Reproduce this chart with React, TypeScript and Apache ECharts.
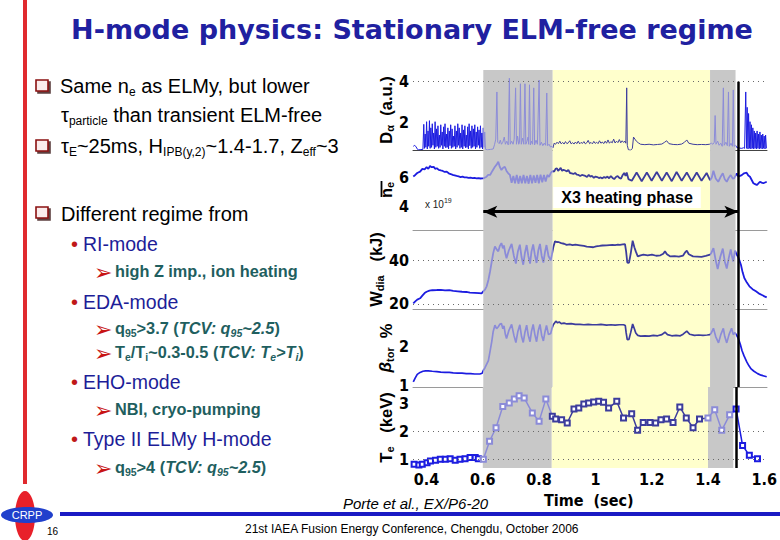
import React, { useEffect, useRef } from 'react';
import * as echarts from 'echarts';

// ---------- data ----------
const TIME_TICKS = [0.4, 0.6, 0.8, 1.0, 1.2, 1.4, 1.6];
const DALPHA_TICKS = [2, 4];
const NE_TICKS = [4, 6];
const WDIA_TICKS = [20, 40];
const BETA_TICKS = [1, 2];
const TE_TICKS = [1, 2, 3];

const DALPHA_GRID = [4];
const WDIA_GRID = [20, 40];
const TE_GRID = [1, 2];

// phases (s)
const GRAY_BANDS = [[0.6, 0.845], [1.4, 1.49]];
const YELLOW_BANDS = [[0.845, 1.4]];
const X3_START = 0.6;
const X3_END = 1.5;
const ARROW_LEVEL = 3.66; // in ne units, where the arrow is drawn

const D_ALPHA = [
  [0.353, 0.85], [0.358, 0.9], [0.363, 0.82], [0.368, 0.7], [0.372, 0.68], [0.38, 0.69], [0.387, 0.7],
  [0.39, 1.92], [0.3925, 0.75], [0.395, 1.45], [0.3975, 0.8], [0.4, 2.05], [0.4025, 0.72], [0.405, 1.6], [0.4075, 0.85],
  [0.41, 2.1], [0.4125, 0.75], [0.415, 1.75], [0.4175, 0.8], [0.42, 1.95], [0.4225, 0.9], [0.425, 1.5], [0.4275, 0.72],
  [0.43, 2.05], [0.4325, 0.8], [0.435, 1.7], [0.4375, 0.85], [0.44, 1.85], [0.4425, 0.75], [0.445, 1.4], [0.4475, 0.8],
  [0.45, 1.9], [0.4525, 0.9], [0.455, 1.55], [0.4575, 0.72], [0.46, 1.8], [0.4625, 0.85], [0.465, 1.95], [0.4675, 0.78],
  [0.47, 1.45], [0.4725, 0.8], [0.475, 1.75], [0.4775, 0.72], [0.48, 1.6], [0.4825, 0.88], [0.485, 1.9], [0.4875, 0.75],
  [0.49, 1.7], [0.4925, 0.8], [0.495, 1.35], [0.4975, 0.85], [0.5, 1.85], [0.5025, 0.72], [0.505, 1.6], [0.5075, 0.8],
  [0.51, 1.95], [0.5125, 0.9], [0.515, 1.75], [0.5175, 0.75], [0.52, 1.5], [0.5225, 0.8], [0.525, 1.9], [0.5275, 0.72],
  [0.53, 1.65], [0.5325, 0.85], [0.535, 1.85], [0.5375, 0.78], [0.54, 1.4], [0.5425, 0.8], [0.545, 1.8], [0.5475, 0.72],
  [0.55, 1.95], [0.5525, 0.88], [0.555, 1.6], [0.5575, 0.75], [0.56, 1.85], [0.5625, 0.8], [0.565, 1.7], [0.5675, 0.85],
  [0.57, 1.9], [0.5725, 0.72], [0.575, 1.55], [0.5775, 0.8], [0.58, 1.8], [0.5825, 0.9], [0.585, 1.65], [0.5875, 0.75],
  [0.59, 1.85], [0.5925, 0.8], [0.595, 1.5], [0.5975, 0.72], [0.6, 1.75], [0.6025, 0.8], [0.605, 1.55], [0.608, 0.7],
  [0.615, 0.68], [0.625, 0.7], [0.635, 0.72], [0.64, 0.95], [0.644, 1.2], [0.648, 3.5], [0.651, 1.05], [0.656, 0.98],
  [0.66, 1.15], [0.664, 0.95], [0.669, 1.05], [0.674, 1.3], [0.678, 0.95], [0.683, 1.1], [0.688, 0.92], [0.692, 4.17],
  [0.695, 0.95], [0.7, 1.1], [0.705, 0.95], [0.709, 1.2], [0.714, 3.7], [0.717, 0.95], [0.721, 1.35], [0.725, 0.95],
  [0.728, 1.05], [0.731, 3.9], [0.734, 0.95], [0.739, 1.25], [0.743, 0.95], [0.747, 3.9], [0.75, 0.95], [0.754, 1.1],
  [0.758, 1.3], [0.76, 0.95], [0.763, 3.85], [0.766, 0.92], [0.77, 1.1], [0.774, 0.95], [0.778, 3.7], [0.781, 0.92],
  [0.786, 1.15], [0.791, 0.95], [0.797, 4.08], [0.8, 0.9], [0.805, 1.05], [0.81, 0.88], [0.815, 1.0], [0.82, 0.9],
  [0.824, 3.45], [0.827, 0.88], [0.832, 0.95], [0.837, 0.82], [0.842, 0.85],
  [0.846, 0.78], [0.85, 1.0], [0.855, 0.95], [0.86, 1.05], [0.865, 0.98], [0.87, 1.1], [0.875, 0.97], [0.88, 1.04],
  [0.885, 0.96], [0.89, 1.08], [0.895, 0.98], [0.9, 1.02], [0.905, 1.12], [0.91, 0.97], [0.915, 1.03], [0.92, 0.96],
  [0.925, 1.06], [0.93, 0.98], [0.935, 1.1], [0.94, 0.97], [0.945, 1.04], [0.95, 0.99], [0.955, 1.08], [0.96, 0.97],
  [0.965, 1.02], [0.97, 1.14], [0.975, 0.98], [0.98, 1.04], [0.985, 0.97], [0.99, 1.09], [0.995, 0.99], [1.0, 1.05],
  [1.005, 0.98], [1.01, 1.12], [1.015, 1.0], [1.02, 1.06], [1.025, 0.98], [1.03, 1.1], [1.035, 1.0], [1.04, 1.16],
  [1.045, 1.0], [1.05, 1.08], [1.055, 1.02], [1.06, 1.2], [1.065, 1.01], [1.07, 1.1], [1.075, 1.03], [1.08, 1.18],
  [1.085, 1.02], [1.09, 1.12], [1.095, 1.04], [1.1, 1.1], [1.103, 1.0], [1.106, 3.7], [1.108, 0.9], [1.112, 0.68],
  [1.12, 0.66], [1.126, 0.75], [1.13, 1.3], [1.135, 1.2], [1.14, 1.1], [1.147, 1.02], [1.155, 0.95], [1.17, 0.93],
  [1.185, 0.95], [1.2, 0.92], [1.215, 0.94], [1.23, 0.96], [1.24, 1.05], [1.247, 1.12], [1.255, 0.98], [1.27, 0.94],
  [1.285, 0.93], [1.3, 0.96], [1.31, 1.05], [1.318, 1.16], [1.325, 1.0], [1.34, 0.95], [1.355, 0.93], [1.37, 0.94],
  [1.385, 0.93], [1.398, 0.95],
  [1.405, 1.0], [1.41, 0.95], [1.415, 1.05], [1.418, 2.35], [1.421, 0.95], [1.427, 1.1], [1.432, 0.9], [1.438, 1.0],
  [1.443, 0.85], [1.447, 3.7], [1.45, 0.9], [1.456, 1.05], [1.461, 0.88], [1.465, 3.5], [1.468, 0.85], [1.474, 1.0],
  [1.479, 0.85], [1.482, 3.6], [1.485, 0.85], [1.49, 0.9],
  [1.495, 0.78], [1.5, 0.8], [1.505, 0.76], [1.512, 0.75], [1.518, 0.78], [1.522, 0.75], [1.526, 3.5], [1.529, 0.75],
  [1.531, 2.75], [1.534, 0.72], [1.536, 2.45], [1.539, 0.75], [1.541, 2.05], [1.544, 0.72], [1.546, 1.9], [1.549, 0.75],
  [1.551, 1.75], [1.554, 0.72], [1.556, 1.6], [1.559, 0.75], [1.561, 1.5], [1.564, 0.72], [1.566, 1.6], [1.569, 0.75],
  [1.571, 1.45], [1.574, 0.72], [1.576, 1.55], [1.579, 0.75], [1.581, 1.4], [1.584, 0.72], [1.586, 1.45], [1.589, 0.75],
  [1.591, 1.35], [1.594, 0.72], [1.596, 1.4], [1.599, 0.75],
];

const NE = [
  [0.353, 6.03], [0.36, 6.14], [0.367, 6.27], [0.377, 6.36], [0.385, 6.55], [0.393, 6.52], [0.4, 6.66], [0.406, 6.55],
  [0.412, 6.74], [0.418, 6.66], [0.425, 6.69], [0.43, 6.55], [0.436, 6.59], [0.443, 6.48], [0.45, 6.44], [0.457, 6.41],
  [0.464, 6.34], [0.471, 6.36], [0.478, 6.25], [0.485, 6.2], [0.492, 6.14], [0.499, 6.11], [0.506, 6.07], [0.513, 6.04],
  [0.52, 6.0], [0.527, 6.03], [0.534, 5.97], [0.541, 5.98], [0.548, 5.94], [0.555, 5.96], [0.562, 5.93], [0.569, 5.94],
  [0.576, 5.91], [0.583, 5.93], [0.59, 5.9], [0.596, 5.91],
  [0.6, 5.91], [0.61, 6.0], [0.617, 6.14], [0.624, 6.14], [0.632, 6.41], [0.641, 6.69], [0.647, 6.83], [0.653, 7.03],
  [0.658, 6.69], [0.664, 6.47], [0.67, 6.62], [0.676, 6.69], [0.682, 6.41], [0.688, 6.25], [0.694, 6.14], [0.7, 5.61],
  [0.706, 6.07], [0.712, 5.58], [0.718, 6.14], [0.724, 5.55], [0.73, 6.07], [0.736, 5.58], [0.742, 6.14], [0.748, 5.58],
  [0.754, 6.07], [0.76, 5.55], [0.766, 6.14], [0.772, 5.58], [0.778, 6.11], [0.784, 5.61], [0.79, 6.14], [0.796, 5.58],
  [0.802, 6.16], [0.808, 5.65], [0.814, 6.14], [0.82, 5.69], [0.826, 6.14], [0.832, 6.0], [0.838, 6.27], [0.842, 6.36],
  [0.846, 6.41], [0.85, 6.36], [0.855, 6.55], [0.86, 6.59], [0.864, 6.41], [0.868, 6.49], [0.873, 6.62], [0.878, 6.41],
  [0.883, 6.49], [0.889, 6.44], [0.895, 6.38], [0.9, 6.48], [0.906, 6.27], [0.912, 6.25], [0.918, 6.2], [0.924, 6.27],
  [0.93, 6.16], [0.936, 6.14], [0.942, 6.07], [0.948, 6.14], [0.954, 6.11], [0.96, 6.07], [0.966, 6.0], [0.972, 6.14],
  [0.978, 6.03], [0.984, 6.07], [0.99, 5.94], [0.996, 6.03], [1.002, 6.0], [1.008, 5.93], [1.014, 5.97], [1.02, 5.91],
  [1.026, 6.0], [1.032, 5.94], [1.038, 6.03], [1.044, 5.91], [1.05, 6.07], [1.056, 5.94], [1.062, 5.86], [1.068, 6.0],
  [1.074, 6.07], [1.08, 5.94], [1.086, 5.89], [1.092, 6.14], [1.097, 6.27], [1.102, 6.07], [1.106, 6.3], [1.112, 5.86],
  [1.124, 5.75], [1.141, 6.3], [1.159, 5.72], [1.177, 6.3], [1.194, 5.75], [1.212, 6.34], [1.23, 5.75], [1.247, 6.3],
  [1.265, 5.72], [1.282, 6.34], [1.3, 5.75], [1.318, 6.3], [1.335, 5.72], [1.353, 6.3], [1.37, 5.75], [1.388, 6.27],
  [1.4, 5.79],
  [1.406, 5.95], [1.412, 6.42], [1.42, 5.9], [1.429, 5.68], [1.437, 6.0], [1.445, 6.25], [1.452, 5.85], [1.459, 5.68],
  [1.466, 5.95], [1.473, 6.13], [1.48, 5.9], [1.485, 5.91], [1.494, 6.25],
  [1.5, 6.02], [1.506, 6.08], [1.512, 6.13], [1.52, 6.25], [1.529, 6.29], [1.535, 6.1], [1.541, 6.02], [1.547, 5.8],
  [1.553, 5.58], [1.559, 5.52], [1.565, 5.46], [1.57, 5.55], [1.576, 5.68], [1.582, 5.62], [1.588, 5.58], [1.594, 5.63],
  [1.6, 5.68],
];

const WDIA = [
  [0.353, 20.3], [0.36, 21.2], [0.367, 22.0], [0.377, 22.6], [0.385, 23.8], [0.393, 25.0], [0.4, 25.6], [0.41, 26.1],
  [0.42, 26.3], [0.436, 26.4], [0.45, 26.5], [0.465, 26.2], [0.48, 26.3], [0.494, 26.0], [0.51, 25.8], [0.525, 25.6],
  [0.54, 25.5], [0.553, 25.2], [0.57, 25.1], [0.585, 25.0], [0.594, 24.9],
  [0.6, 25.8], [0.606, 26.6], [0.612, 28.1], [0.618, 31.0], [0.624, 35.0], [0.63, 39.5], [0.635, 43.3], [0.641, 46.4],
  [0.647, 45.0], [0.653, 44.1], [0.658, 46.5], [0.664, 47.9], [0.669, 45.5], [0.673, 46.8], [0.678, 43.0], [0.682, 41.0],
  [0.69, 44.5], [0.7, 47.5], [0.708, 42.0], [0.715, 38.5], [0.722, 44.0], [0.729, 47.2], [0.735, 41.5], [0.741, 38.0],
  [0.747, 43.5], [0.753, 47.0], [0.759, 42.0], [0.765, 38.5], [0.77, 44.0], [0.776, 47.3], [0.782, 42.5], [0.788, 38.8],
  [0.794, 44.5], [0.8, 47.5], [0.806, 42.0], [0.812, 39.0], [0.818, 44.0], [0.823, 47.0], [0.83, 42.0], [0.838, 40.0],
  [0.842, 42.5],
  [0.847, 46.0], [0.853, 48.7], [0.859, 48.4], [0.867, 48.3], [0.875, 47.9], [0.885, 47.6], [0.894, 47.1], [0.905, 47.3],
  [0.915, 47.0], [0.925, 47.2], [0.941, 46.9], [0.955, 46.6], [0.965, 46.3], [0.975, 46.2], [0.988, 46.0], [0.998, 46.4],
  [1.01, 46.6], [1.02, 46.8], [1.035, 46.9], [1.045, 47.0], [1.055, 47.1], [1.065, 47.0], [1.075, 47.2], [1.082, 47.1],
  [1.092, 47.3], [1.1, 47.4], [1.104, 44.0], [1.108, 39.0], [1.114, 38.8], [1.12, 43.0], [1.127, 49.0], [1.133, 46.0],
  [1.138, 44.1], [1.145, 41.8], [1.155, 42.3], [1.165, 42.6], [1.18, 42.3], [1.195, 42.6], [1.21, 42.1], [1.225, 42.3],
  [1.235, 43.0], [1.241, 44.1], [1.248, 42.8], [1.26, 41.8], [1.275, 41.9], [1.29, 41.7], [1.305, 42.2], [1.313, 43.8],
  [1.318, 44.4], [1.325, 42.8], [1.34, 41.8], [1.355, 41.7], [1.37, 41.6], [1.385, 42.0], [1.4, 42.6],
  [1.405, 43.5], [1.412, 45.6], [1.42, 40.0], [1.427, 36.0], [1.436, 41.5], [1.445, 45.4], [1.452, 39.5], [1.459, 36.2],
  [1.466, 41.0], [1.473, 45.0], [1.478, 41.5], [1.482, 39.5], [1.488, 44.5], [1.494, 42.6],
  [1.5, 41.3], [1.505, 39.5], [1.509, 38.0], [1.515, 34.5], [1.521, 31.9], [1.53, 29.8], [1.539, 28.1], [1.55, 26.8],
  [1.562, 25.8], [1.575, 24.6], [1.585, 24.0], [1.592, 23.5], [1.6, 23.0],
];

const BETA = [
  [0.353, 1.1], [0.36, 1.2], [0.367, 1.29], [0.377, 1.34], [0.387, 1.37], [0.396, 1.38], [0.406, 1.38], [0.42, 1.37],
  [0.436, 1.36], [0.45, 1.35], [0.465, 1.34], [0.48, 1.34], [0.494, 1.33], [0.51, 1.32], [0.525, 1.32], [0.54, 1.31],
  [0.555, 1.31], [0.57, 1.3], [0.588, 1.3], [0.596, 1.32],
  [0.6, 1.39], [0.606, 1.46], [0.612, 1.55], [0.618, 1.64], [0.624, 1.88], [0.63, 2.13], [0.635, 2.38], [0.641, 2.54],
  [0.647, 2.45], [0.653, 2.5], [0.658, 2.56], [0.664, 2.58], [0.669, 2.45], [0.673, 2.52], [0.678, 2.3], [0.682, 2.2],
  [0.69, 2.4], [0.7, 2.56], [0.708, 2.28], [0.715, 2.1], [0.722, 2.38], [0.729, 2.55], [0.735, 2.25], [0.741, 2.1],
  [0.747, 2.36], [0.753, 2.54], [0.759, 2.27], [0.765, 2.12], [0.77, 2.38], [0.776, 2.56], [0.782, 2.3], [0.788, 2.12],
  [0.794, 2.4], [0.8, 2.56], [0.806, 2.28], [0.812, 2.14], [0.818, 2.38], [0.823, 2.53], [0.83, 2.3], [0.838, 2.33],
  [0.842, 2.45],
  [0.847, 2.55], [0.856, 2.64], [0.862, 2.6], [0.868, 2.62], [0.875, 2.58], [0.885, 2.59], [0.895, 2.57], [0.91, 2.58],
  [0.925, 2.56], [0.941, 2.56], [0.955, 2.55], [0.97, 2.56], [0.985, 2.55], [1.0, 2.55], [1.015, 2.56], [1.035, 2.54],
  [1.05, 2.55], [1.065, 2.54], [1.08, 2.55], [1.095, 2.55], [1.101, 2.53], [1.104, 2.35], [1.108, 2.17], [1.114, 2.18],
  [1.12, 2.35], [1.127, 2.57], [1.133, 2.45], [1.138, 2.34], [1.145, 2.28], [1.155, 2.26], [1.17, 2.27], [1.185, 2.26],
  [1.2, 2.28], [1.215, 2.27], [1.23, 2.3], [1.241, 2.36], [1.25, 2.3], [1.265, 2.27], [1.28, 2.28], [1.295, 2.27],
  [1.305, 2.31], [1.318, 2.39], [1.328, 2.31], [1.345, 2.28], [1.36, 2.29], [1.375, 2.28], [1.39, 2.29], [1.4, 2.3],
  [1.405, 2.35], [1.412, 2.46], [1.42, 2.25], [1.43, 2.09], [1.438, 2.3], [1.447, 2.46], [1.452, 2.25], [1.459, 2.09],
  [1.467, 2.3], [1.476, 2.46], [1.482, 2.3], [1.488, 2.35], [1.494, 2.28],
  [1.5, 2.2], [1.507, 2.05], [1.513, 1.89], [1.52, 1.76], [1.53, 1.6], [1.538, 1.5], [1.545, 1.43], [1.555, 1.37],
  [1.568, 1.31], [1.58, 1.27], [1.59, 1.25], [1.6, 1.23],
];

const TE = [
  [0.356, 0.82], [0.373, 0.8], [0.385, 0.82], [0.402, 0.88], [0.414, 0.94], [0.432, 0.97], [0.449, 1.0], [0.467, 1.0],
  [0.484, 1.02], [0.502, 0.97], [0.519, 1.0], [0.537, 1.02], [0.555, 1.06], [0.573, 1.06], [0.584, 1.02], [0.602, 1.0],
  [0.624, 1.64], [0.647, 2.12], [0.671, 2.88], [0.694, 3.0], [0.712, 3.14], [0.729, 3.26], [0.747, 3.18], [0.776, 2.65],
  [0.8, 2.35], [0.824, 3.14],
  [0.847, 2.53], [0.859, 2.43], [0.88, 2.41], [0.9, 2.29], [0.924, 2.79], [0.941, 2.82], [0.959, 2.97], [0.976, 3.0],
  [0.994, 3.04], [1.012, 3.06], [1.029, 3.03], [1.047, 2.82], [1.076, 3.06], [1.1, 2.47], [1.129, 2.62], [1.15, 2.03],
  [1.17, 2.31], [1.194, 2.31], [1.214, 2.29], [1.233, 2.41], [1.253, 2.43], [1.276, 2.31], [1.3, 2.86], [1.323, 2.47],
  [1.347, 2.12], [1.37, 2.43], [1.4, 2.47],
  [1.424, 2.76], [1.449, 2.03], [1.477, 2.58], [1.5, 2.79],
  [1.523, 1.49], [1.547, 1.14], [1.576, 1.02],
];

// ---------- style ----------
const FONT = 'Liberation Sans, Arial, Helvetica, sans-serif';
const NARROW = 'Liberation Sans Narrow, DejaVu Sans Condensed, Arial Narrow, sans-serif';
const BLUE = '#1c1ce0';
const LAV = '#8b8bd8';
const NAVY = '#3c3c9c';
const GRAY = '#c8c8c8';
const YELLOW = '#ffffcc';
const NAVY_TXT = '#1d1d98';
const TEAL = '#1f5f5f';
const RED = '#c01818';

const GRID_TOPS = [70, 150, 230, 309, 387];
const GRID_HEIGHTS = [80, 80, 79, 78, 81];
const X_MIN = 0.352;
const X_MAX = 1.601;

function richDefs(size: number, color: string, weight: string, sub: number) {
  const lh = Math.round(size * 1.2);
  const base = { fontSize: size, fontFamily: FONT, fontWeight: weight, fill: color, color, verticalAlign: 'middle', lineHeight: lh };
  const s = { fontSize: sub, fontFamily: FONT, fontWeight: weight, fill: color, color, verticalAlign: 'bottom', lineHeight: Math.round(sub * 0.85) };
  return {
    n: base,
    s,
    i: { ...base, fontStyle: 'italic' },
    is: { ...s, fontStyle: 'italic' },
  };
}

function txt(x: number, y: number, text: string, rich: any, extra: any = {}) {
  return {
    type: 'text',
    x,
    y,
    z: 20,
    silent: true,
    style: {
      text,
      rich,
      fontFamily: FONT,
      align: 'left',
      textAlign: 'left',
      verticalAlign: 'middle',
      textVerticalAlign: 'middle',
      ...extra,
    },
  };
}

function plain(x: number, y: number, text: string, size: number, color: string, extra: any = {}) {
  return {
    type: 'text',
    x,
    y,
    z: 20,
    silent: true,
    style: {
      text,
      fontSize: size,
      fontFamily: FONT,
      fill: color,
      align: 'left',
      textAlign: 'left',
      verticalAlign: 'middle',
      textVerticalAlign: 'middle',
      ...extra,
    },
  };
}

function bulletBox(y: number) {
  return {
    type: 'rect',
    z: 20,
    silent: true,
    shape: { x: 36, y: y - 6, width: 12, height: 11 },
    style: {
      fill: '#fbecec',
      stroke: '#8a1010',
      lineWidth: 1.6,
      shadowColor: 'rgba(40,0,0,0.75)',
      shadowOffsetX: 2,
      shadowOffsetY: 2,
      shadowBlur: 0,
    },
  };
}

function arrowHead(y: number) {
  return plain(94, y + 1, '➢', 22, '#c81414', { fontFamily: 'DejaVu Sans, sans-serif' });
}

function buildOption() {
  const L1 = richDefs(20, '#000', 'normal', 12);
  const L2 = richDefs(19.5, NAVY_TXT, 'normal', 12);
  const L3 = richDefs(16.3, TEAL, 'bold', 10.5);

  const elements: any[] = [
    { type: 'line', silent: true, shape: { x1: 25, y1: 0, x2: 25, y2: 484 }, style: { stroke: '#e02a2e', lineWidth: 4 } },
    {
      type: 'text', x: 412, y: 29, silent: true,
      style: {
        text: 'H-mode physics: Stationary ELM-free regime',
        fontSize: 27, fontWeight: 'bold', fontFamily: 'DejaVu Sans, Liberation Sans, sans-serif', fill: '#2020a0',
        align: 'center', textAlign: 'center', verticalAlign: 'middle', textVerticalAlign: 'middle',
      },
    },
    bulletBox(86), bulletBox(146), bulletBox(213),
    txt(60, 86, '{n|Same n}{s|e}{n| as ELMy, but lower}', L1),
    txt(61, 114.5, '{n|τ}{s|particle}{n| than transient ELM-free}', L1),
    txt(61, 146, '{n|τ}{s|E}{n|~25ms, H}{s|IPB(y,2)}{n|~1.4-1.7, Z}{s|eff}{n|~3}', L1),
    txt(61, 213.5, '{n|Different regime from}', L1),
    // level 2 items
    plain(71, 243.5, '•', 20, RED),
    txt(83, 243.5, '{n|RI-mode}', L2),
    plain(71, 301.5, '•', 20, RED),
    txt(83, 301.5, '{n|EDA-mode}', L2),
    plain(71, 382, '•', 20, RED),
    txt(83, 382, '{n|EHO-mode}', L2),
    plain(71, 438.5, '•', 20, RED),
    txt(83, 438.5, '{n|Type II ELMy H-mode}', L2),
    // level 3 items
    arrowHead(271),
    txt(115, 271, '{n|high Z imp., ion heating}', L3),
    arrowHead(328),
    txt(115, 328, '{n|q}{s|95}{n|>3.7 (}{i|TCV: q}{is|95}{i|~2.5}{n|)}', L3),
    arrowHead(352),
    txt(115, 352, '{n|T}{s|e}{n|/T}{s|i}{n|~0.3-0.5 (}{i|TCV: T}{is|e}{i|>T}{is|i}{n|)}', L3),
    arrowHead(409),
    txt(115, 409, '{n|NBI, cryo-pumping}', L3),
    arrowHead(467),
    txt(115, 467, '{n|q}{s|95}{n|>4 (}{i|TCV: q}{is|95}{i|~2.5}{n|)}', L3),
    // citation & footer
    plain(343, 503, 'Porte et al., EX/P6-20', 15, '#000', { fontStyle: 'italic' }),
    { type: 'line', silent: true, shape: { x1: 60, y1: 514, x2: 780, y2: 514 }, style: { stroke: '#1a1ac4', lineWidth: 4 } },
    plain(245, 529, '21st IAEA Fusion Energy Conference, Chengdu, October 2006', 12, '#000'),
    plain(47, 531, '16', 10, '#000'),
    // logo
    { type: 'ellipse', silent: true, shape: { cx: 25, cy: 516, rx: 10, ry: 25 }, style: { fill: '#e8202a' } },
    { type: 'ellipse', silent: true, shape: { cx: 27, cy: 515, rx: 26, ry: 8 }, style: { fill: '#2040cc' } },
    {
      type: 'text', x: 27, y: 515, silent: true,
      style: { text: 'CRPP', fontSize: 11, fontFamily: FONT, fill: '#fff', align: 'center', textAlign: 'center', verticalAlign: 'middle', textVerticalAlign: 'middle' },
    },
    // plot annotations
    {
      type: 'text', x: 627, y: 197.5, z: 30, silent: true,
      style: {
        text: 'X3 heating phase', fontSize: 16, fontWeight: 'bold', fontFamily: FONT, fill: '#000',
        backgroundColor: '#ffffff', padding: [2, 8, 2, 8], lineHeight: 17,
        align: 'center', textAlign: 'center', verticalAlign: 'middle', textVerticalAlign: 'middle',
      },
    },
    txt(425, 204, '{n|x 10}{p|19}', {
      n: { fontSize: 10, fontFamily: FONT, fill: '#222', color: '#222', verticalAlign: 'middle', lineHeight: 14 },
      p: { fontSize: 7, fontFamily: FONT, fill: '#222', color: '#222', verticalAlign: 'top', lineHeight: 8 },
    }),
    // overline of n_e
    { type: 'line', silent: true, shape: { x1: 381.5, y1: 181, x2: 381.5, y2: 197 }, style: { stroke: '#000', lineWidth: 1.8 } },
  ];

  const nameRich = {
    b: { fontSize: 16.5, fontWeight: 'bold', fontFamily: FONT, color: '#000', verticalAlign: 'middle', lineHeight: 19 },
    s: { fontSize: 11, fontWeight: 'bold', fontFamily: FONT, color: '#000', verticalAlign: 'bottom', lineHeight: 10 },
    g: { fontSize: 17, fontStyle: 'italic', fontFamily: FONT, color: '#000', verticalAlign: 'middle', lineHeight: 19 },
  };

  const yDefs = [
    { min: 0.67, max: 4.57, ticks: DALPHA_TICKS, name: '{b|D}{s|α}{b|  (a.u.)}', gap: 18 },
    { min: 2.43, max: 7.82, ticks: NE_TICKS, name: '{b|n}{s|e}', gap: 17 },
    { min: 17.7, max: 53.9, ticks: WDIA_TICKS, name: '{b|W}{s|dia}{b|   (kJ)}', gap: 20 },
    { min: 0.97, max: 2.95, ticks: BETA_TICKS, name: '{g|β}{s|tor}{b|  %}', gap: 18 },
    { min: 0.69, max: 3.57, ticks: TE_TICKS, name: '{b|T}{s|e}{b|   (keV)}', gap: 15 },
  ];

  const grid = GRID_TOPS.map((top, i) => ({ left: 413, right: 13, top, height: GRID_HEIGHTS[i] }));

  const axisLineColors = ['#444', '#9a9a9a', '#9a9a9a', '#9a9a9a', null];
  const xAxis = GRID_TOPS.map((_, i) => ({
    type: 'value',
    gridIndex: i,
    min: X_MIN,
    max: X_MAX,
    axisLine: { show: axisLineColors[i] !== null, onZero: false, lineStyle: { color: axisLineColors[i] || '#000', width: 1 } },
    axisTick: { show: false },
    splitLine: { show: false },
    axisLabel: {
      show: i === 4,
      customValues: TIME_TICKS,
      margin: 3,
      fontSize: 16,
      lineHeight: 16,
      fontWeight: 'bold',
      fontFamily: NARROW,
      color: '#000',
      formatter: (v: number) => String(v),
    },
    name: i === 4 ? 'Time  (sec)' : '',
    nameLocation: 'middle',
    nameGap: 24,
    nameTextStyle: { fontSize: 16, lineHeight: 16, fontWeight: 'bold', fontFamily: NARROW, color: '#000' },
  }));

  const yAxis = yDefs.map((d, i) => ({
    type: 'value',
    gridIndex: i,
    min: d.min,
    max: d.max,
    axisLine: { show: false },
    axisTick: { show: false },
    splitLine: { show: false },
    axisLabel: {
      customValues: d.ticks,
      margin: 4,
      fontSize: 16,
      fontWeight: 'bold',
      fontFamily: NARROW,
      color: '#000',
    },
    name: d.name,
    nameLocation: 'middle',
    nameRotate: 90,
    nameGap: d.gap,
    nameTextStyle: { rich: nameRich, fontSize: 16, fontWeight: 'bold', fontFamily: FONT, color: '#000' },
  }));

  const bands: any[] = [];
  GRAY_BANDS.forEach(([a, b]) => bands.push([{ xAxis: a, itemStyle: { color: GRAY } }, { xAxis: b }]));
  YELLOW_BANDS.forEach(([a, b]) => bands.push([{ xAxis: a, itemStyle: { color: YELLOW } }, { xAxis: b }]));

  const dotted = { color: '#6a6a6a', width: 1, type: [1, 4] };
  const black = { color: '#000', width: 2.5, type: 'solid' };

  const lines: any[][] = [
    [
      ...DALPHA_GRID.map((v) => ({ yAxis: v, lineStyle: dotted })),
      [{ coord: [X3_END, 4], lineStyle: black }, { coord: [X3_END, 0.67], lineStyle: black }],
    ],
    [
      { xAxis: X3_END, lineStyle: black },
      [
        { coord: [X3_START, ARROW_LEVEL], symbol: 'arrow', symbolSize: [9, 14], lineStyle: { color: '#000', width: 3, type: 'solid' } },
        { coord: [X3_END, ARROW_LEVEL], symbol: 'arrow', symbolSize: [9, 14] },
      ],
    ],
    [...WDIA_GRID.map((v) => ({ yAxis: v, lineStyle: dotted })), { xAxis: X3_END, lineStyle: black }],
    [{ xAxis: X3_END, lineStyle: black }],
    [...TE_GRID.map((v) => ({ yAxis: v, lineStyle: dotted })), { xAxis: X3_END, lineStyle: black }],
  ];

  const datasets = [D_ALPHA, NE, WDIA, BETA, TE];
  const widths = [1, 1.8, 1.8, 1.7, 1.5];

  const series = datasets.map((data, i) => ({
    type: 'line',
    xAxisIndex: i,
    yAxisIndex: i,
    data,
    silent: true,
    clip: true,
    showSymbol: i === 4,
    symbol: i === 4 ? 'emptyRect' : 'none',
    symbolSize: 5,
    itemStyle: { borderWidth: 1.2 },
    lineStyle: { width: widths[i] },
    z: 3,
    markArea: { silent: true, data: bands },
    markLine: {
      silent: true,
      symbol: 'none',
      label: { show: false },
      data: lines[i],
      z: 6,
    },
  }));

  return {
    animation: false,
    backgroundColor: '#ffffff',
    grid,
    xAxis,
    yAxis,
    visualMap: {
      type: 'piecewise',
      show: false,
      dimension: 0,
      seriesIndex: [0, 1, 2, 3, 4],
      pieces: [
        { lt: GRAY_BANDS[0][0], color: BLUE },
        { gte: GRAY_BANDS[0][0], lt: GRAY_BANDS[0][1], color: LAV },
        { gte: YELLOW_BANDS[0][0], lt: YELLOW_BANDS[0][1], color: NAVY },
        { gte: GRAY_BANDS[1][0], lt: GRAY_BANDS[1][1], color: LAV },
        { gte: GRAY_BANDS[1][1], color: BLUE },
      ],
    },
    series,
    graphic: { elements },
  };
}

export default function App() {
  const ref = useRef<HTMLDivElement>(null);
  useEffect(() => {
    if (!ref.current) return;
    const chart = echarts.init(ref.current, null, { renderer: 'svg' });
    chart.setOption(buildOption() as any);
    return () => chart.dispose();
  }, []);
  return (
    <div
      ref={ref}
      style={{ position: 'absolute', left: 0, top: 0, width: 780, height: 540, background: '#fff' }}
    />
  );
}
